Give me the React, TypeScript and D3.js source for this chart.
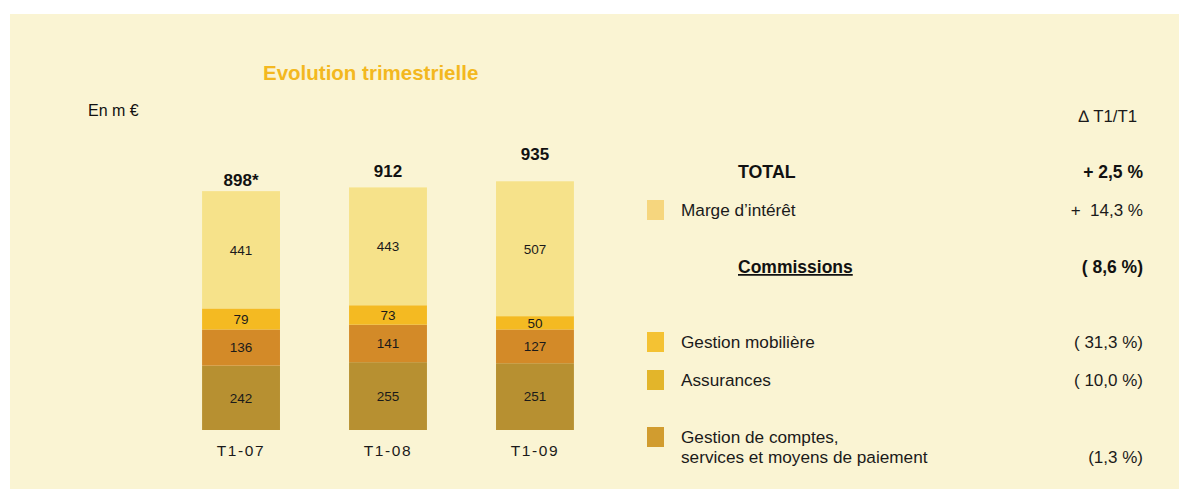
import { scaleBand, scaleLinear, stack } from "d3";

const quarters = ["T1-07", "T1-08", "T1-09"];
const totalLabels = ["898*", "912", "935"];
// bottom to top
const seriesKeys = ["gestionComptes", "assurances", "gestionMobiliere", "marge"];
const gestionComptes = [242, 255, 251];
const assurances = [136, 141, 127];
const gestionMobiliere = [79, 73, 50];
const marge = [441, 443, 507];

const legendLabels = [
  ["Marge d\u2019intérêt"],
  ["Gestion mobilière"],
  ["Assurances"],
  ["Gestion de comptes,", "services et moyens de paiement"],
];
const legendChanges = ["+  14,3 %", "( 31,3 %)", "( 10,0 %)", "(1,3 %)"];
const totalChange = "+ 2,5 %";
const commissionsChange = "( 8,6 %)";

const barColors: Record<string, string> = {
  marge: "#F6E28A",
  gestionMobiliere: "#F4BA22",
  assurances: "#D38A28",
  gestionComptes: "#B79031",
};
const swatchColors = ["#F6D67E", "#F4C233", "#E3B52A", "#D19C2F"];

const W = 1179;
const H = 489;
const FONT = "'Liberation Sans', Arial, Helvetica, sans-serif";
// how far each total label sits above its bar (as in the source slide)
const totalLift = [5, 10, 21];

export default function App() {
  const rows = quarters.map((q, i) => ({
    q,
    gestionComptes: gestionComptes[i],
    assurances: assurances[i],
    gestionMobiliere: gestionMobiliere[i],
    marge: marge[i],
  }));
  const layers = stack<any>().keys(seriesKeys)(rows);
  const totals = rows.map((r) => seriesKeys.reduce((s, k) => s + (r as any)[k], 0));

  const x = scaleBand().domain(quarters).range([133, 643]).padding(0.47);
  const y = scaleLinear().domain([0, 1000]).range([430, 164]);

  const legendY = [210, 342, 380, 437];
  const rightX = 1143;

  return (
    <svg width={W} height={H} style={{ position: "absolute", left: 0, top: 0 }} fontFamily={FONT}>
      <rect x={10} y={14} width={W - 10} height={H - 14} fill="#FAF4D3" />

      <text x={263} y={80} fontSize={20.5} fontWeight="bold" fill="#F3B820">
        Evolution trimestrielle
      </text>
      <text x={88} y={116} fontSize={16} fill="#111">
        En m €
      </text>

      {layers.map((layer) => (
        <g key={layer.key}>
          {layer.map((d, i) => {
            const x0 = x(quarters[i]) ?? 0;
            const top = y(d[1]);
            const bot = y(d[0]);
            return (
              <g key={i}>
                <rect x={x0} y={top} width={x.bandwidth()} height={bot - top} fill={barColors[layer.key]} />
                <text
                  x={x0 + x.bandwidth() / 2}
                  y={(top + bot) / 2 + 4.8}
                  textAnchor="middle"
                  fontSize={13.5}
                  fill="#1a1a1a"
                >
                  {d[1] - d[0]}
                </text>
              </g>
            );
          })}
        </g>
      ))}

      {quarters.map((q, i) => (
        <g key={q}>
          <text
            x={(x(q) ?? 0) + x.bandwidth() / 2}
            y={y(totals[i]) - totalLift[i]}
            textAnchor="middle"
            fontSize={17}
            fontWeight="bold"
            fill="#111"
          >
            {totalLabels[i]}
          </text>
          <text
            x={(x(q) ?? 0) + x.bandwidth() / 2}
            y={456}
            textAnchor="middle"
            fontSize={15.5}
            letterSpacing={1.6}
            fill="#1a1a1a"
          >
            {q}
          </text>
        </g>
      ))}

      <text x={1137} y={122} textAnchor="end" fontSize={16.8} fill="#1a1a1a">
        ∆ T1/T1
      </text>

      <text x={738} y={178} fontSize={17.8} fontWeight="bold" fill="#111">
        TOTAL
      </text>
      <text x={rightX} y={178} textAnchor="end" fontSize={17.5} fontWeight="bold" fill="#111" style={{ whiteSpace: "pre" }}>
        {totalChange}
      </text>

      <text x={738} y={273} fontSize={17.5} fontWeight="bold" fill="#111" textDecoration="underline">
        Commissions
      </text>
      <text x={rightX} y={273} textAnchor="end" fontSize={17.5} fontWeight="bold" fill="#111" style={{ whiteSpace: "pre" }}>
        {commissionsChange}
      </text>

      {legendLabels.map((lines, i) => (
        <g key={i}>
          <rect x={647} y={legendY[i] - 10} width={17} height={20} fill={swatchColors[i]} />
          {lines.map((t, j) => (
            <text key={j} x={681} y={legendY[i] + 6 + j * 20} fontSize={17.2} fill="#1a1a1a">
              {t}
            </text>
          ))}
          <text
            x={rightX}
            y={legendY[i] + 6 + (lines.length - 1) * 20}
            textAnchor="end"
            fontSize={17}
            fill="#1a1a1a"
            style={{ whiteSpace: "pre" }}
          >
            {legendChanges[i]}
          </text>
        </g>
      ))}
    </svg>
  );
}
